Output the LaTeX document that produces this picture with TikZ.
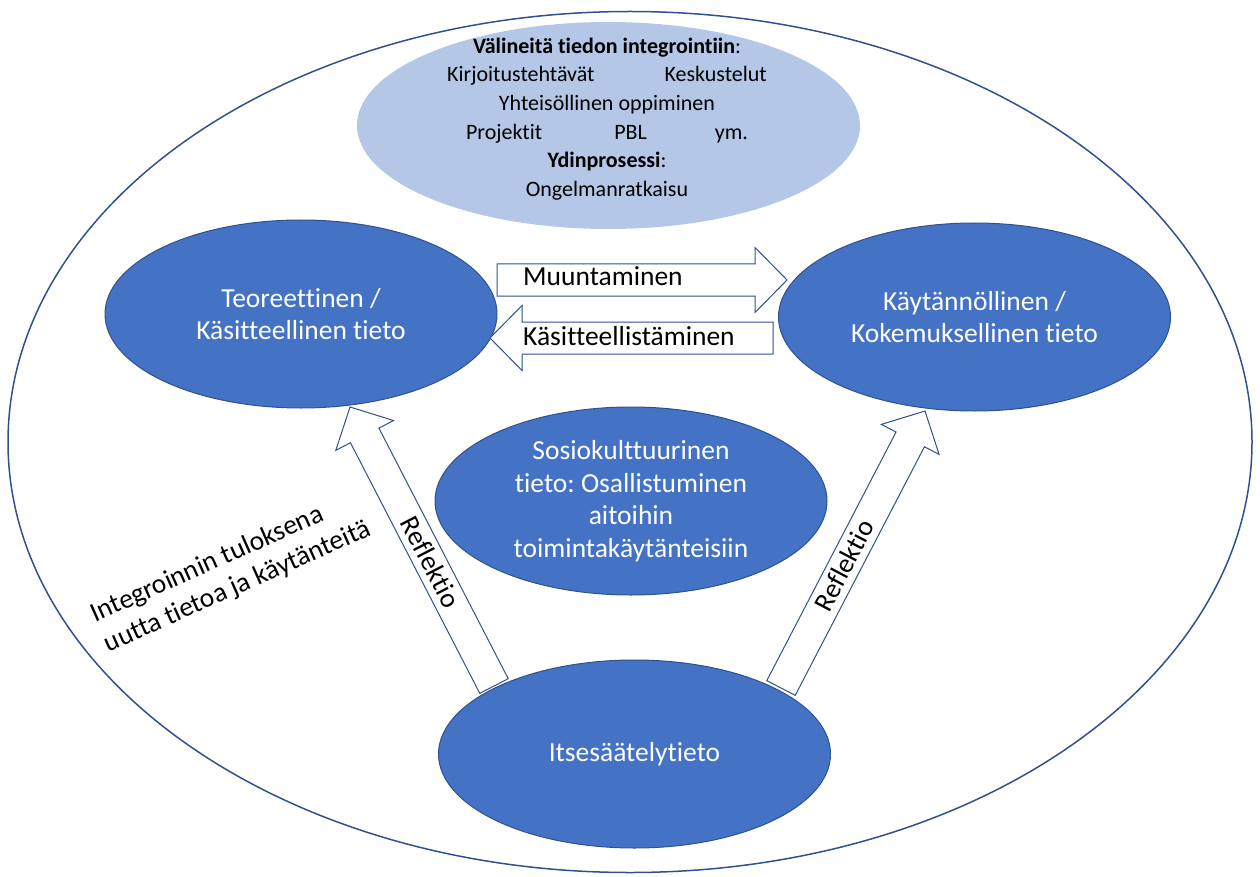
\documentclass[tikz,border=0pt]{standalone}
\usepackage{fontspec}
\setmainfont[Ligatures=CommonOff]{Carlito}
\frenchspacing
\usetikzlibrary{calc,shapes.geometric}
\definecolor{accent}{HTML}{4472C4}
\definecolor{accentdark}{HTML}{2F528F}
\definecolor{accentlight}{HTML}{B4C7E7}
\tikzset{
  knowledge/.style={ellipse, draw=accentdark, line width=1pt, fill=accent,
    text=white, minimum width=392pt, minimum height=188pt, inner sep=0pt,
    align=center, font=\fontsize{27.5}{32.5}\selectfont},
  tools area/.style={ellipse, fill=accentlight, minimum width=503pt,
    minimum height=207pt, inner sep=0pt},
  block arrow/.style={draw=accentdark, line width=1pt, fill=white},
  arrow label/.style={inner sep=0pt, font=\fontsize{27.5}{32.5}\selectfont}
}
\def\BlockArrow#1#2{%
 \coordinate (#1-head) at ($(#2)!32pt!(#1)$);
 \draw[block arrow] ($(#1)!16pt!90:(#2)$) -- ($(#1-head)!16pt!90:(#2)$)
   -- ($(#1-head)!32.5pt!90:(#2)$) -- (#2)
   -- ($(#1-head)!32.5pt!-90:(#2)$) -- ($(#1-head)!16pt!-90:(#2)$)
   -- ($(#1)!16pt!-90:(#2)$) -- cycle;
}

\begin{document}
\begin{tikzpicture}[x=1pt,y=-1pt]
\useasboundingbox (0,0) rectangle (1260,877);
\node (outer) [ellipse, draw=accentdark, line width=1.5pt, minimum width=1244pt,
  minimum height=861pt, inner sep=0pt] at (630,442) {};
\node (tools) [tools area] at (608.5,125.5) {};
\node (toolstext) [align=center, inner sep=0pt,
  font=\fontsize{22}{28.7}\selectfont] at (607,119)
  {\textbf{Välineitä tiedon integrointiin}:\\
   Kirjoitustehtävät\hspace{70pt}Keskustelut\\
   Yhteisöllinen oppiminen\\
   Projektit\hspace{72pt}PBL\hspace{68pt}ym.\\
   \textbf{Ydinprosessi}:\\
   Ongelmanratkaisu};
\node (teoria) [knowledge] at (301,314) {Teoreettinen /\\Käsitteellinen tieto};
\node (kaytanto) [knowledge] at (974.5,317) {Käytännöllinen /\\Kokemuksellinen tieto};
\node (sosio) [knowledge] at (631,501)
  {Sosiokulttuurinen\\tieto: Osallistuminen\\aitoihin\\toimintakäytänteisiin};
\node (itse) [knowledge] at (634.5,754) {Itsesäätelytieto};
% block arrows
\coordinate (muun-tail) at (497,280);
\coordinate (muun-tip) at (787,280);
\coordinate (kasit-tail) at (773,338);
\coordinate (kasit-tip) at (490,338);
\coordinate (refl1-tail) at (494,686);
\coordinate (refl1-tip) at (350,407);
\coordinate (refl2-tail) at (781,688);
\coordinate (refl2-tip) at (925,411);
\BlockArrow{muun-tail}{muun-tip}
\BlockArrow{kasit-tail}{kasit-tip}
\BlockArrow{refl1-tail}{refl1-tip}
\BlockArrow{refl2-tail}{refl2-tip}
\node (muun) [arrow label, anchor=base west] at (523,285) {Muuntaminen};
\node (kasit) [arrow label, anchor=base west] at (523,345) {Käsitteellistäminen};
\node (refl1) [arrow label, rotate=-62.6] at (431,562) {Reflektio};
\node (refl2) [arrow label, rotate=62.4] at (844,565) {Reflektio};
\node (tulos) [arrow label, align=left, rotate=24] at (231,572)
  {Integroinnin tuloksena\\uutta tietoa ja käytänteitä};
\end{tikzpicture}
\end{document}
